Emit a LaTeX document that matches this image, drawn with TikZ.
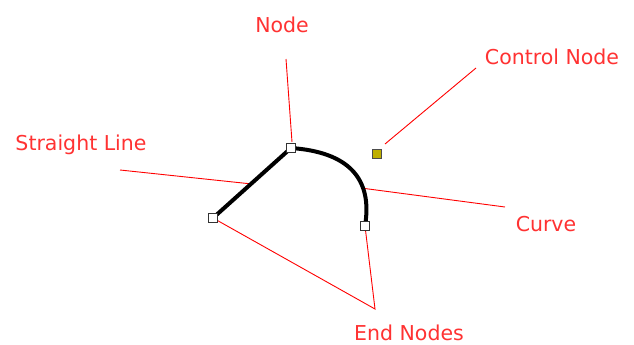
\documentclass[tikz,border=0pt]{standalone}
\usepackage{fontspec}
\setmainfont{DejaVu Sans}
\definecolor{lblred}{RGB}{255,50,50}
\definecolor{ctrlfill}{RGB}{190,175,0}
\begin{document}
\begin{tikzpicture}[x=1pt,y=-1pt,
  handle/.style={draw=black!80,fill=white,line width=1pt,minimum size=9.5pt,inner sep=0pt,outer sep=0pt},
  ctrl/.style={draw=black!70,fill=ctrlfill,line width=1pt,minimum size=9.5pt,inner sep=0pt,outer sep=0pt},
  lbl/.style={text=lblred,font=\fontsize{20.5}{24}\selectfont,inner sep=0pt,anchor=base},
  leader/.style={draw=red,line width=0.9pt}]
\useasboundingbox (0,0) rectangle (634,345);
% coordinates of the path
\coordinate (pN) at (291,148);
\coordinate (pL) at (213,218);
\coordinate (pR) at (365,226);
\coordinate (pC) at (377,154);
% cubic equivalents of the quadratic control point
\coordinate (qa) at (348,152);
\coordinate (qb) at (373,178);
% leader line ends
\coordinate (nodeTop) at (286,59);
\coordinate (nodeBot) at (292,142);
\coordinate (ctrlTop) at (476,68);
\coordinate (ctrlBot) at (385,144);
\coordinate (slA) at (120,170);
\coordinate (slB) at (252,184);
\coordinate (cvA) at (361,188);
\coordinate (cvB) at (505,207);
\coordinate (endTip) at (375,309);
% leader lines
\draw[leader] (nodeTop) -- (nodeBot);
\draw[leader] (ctrlTop) -- (ctrlBot);
\draw[leader] (slA) -- (slB);
\draw[leader] (cvA) -- (cvB);
\draw[leader] (pL) -- (endTip) -- (pR);
% the path
\draw[line width=4pt,line cap=round] (pL) -- (pN) .. controls (qa) and (qb) .. (pR);
% handles
\node[handle] (nN) at (pN) {};
\node[handle] (nL) at (pL) {};
\node[handle] (nR) at (pR) {};
\node[ctrl] (nC) at (pC) {};
% labels
\node[lbl] (tNode) at (282,33) {Node};
\node[lbl] (tCtrl) at (552,64) {Control Node};
\node[lbl] (tSL) at (81,150) {Straight Line};
\node[lbl] (tCv) at (546,231) {Curve};
\node[lbl] (tEnd) at (409,340) {End Nodes};
\end{tikzpicture}
\end{document}
